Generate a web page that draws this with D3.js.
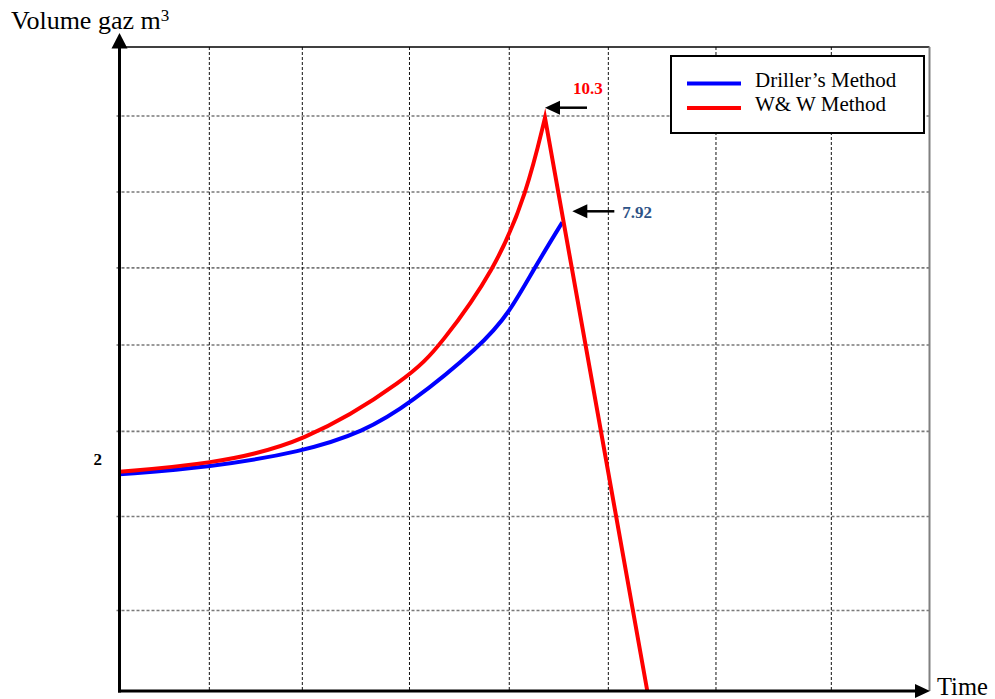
<!DOCTYPE html>
<html>
<head>
<meta charset="utf-8">
<script src="https://cdn.jsdelivr.net/npm/d3@7"></script>
<style>
  html, body { margin: 0; padding: 0; background: #fff; }
  svg { display: block; }
  text { font-family: "Liberation Serif", "Times New Roman", serif; }
</style>
</head>
<body>
<svg id="chart" width="995" height="699"></svg>
<script>
// Gas volume over time for the two well-control methods
const drillerTime   = [0, 11.09, 22.57, 30.10, 35.86, 44.63, 48.12, 51.22, 54.67];
const drillerVolume = [1.868, 1.928, 2.18, 2.675, 3.376, 4.834, 5.652, 6.777, 7.92];

const wwTime   = [0, 11.09, 22.57, 35.86, 39.57, 46.36, 50.31, 52.53];
const wwVolume = [1.89, 1.957, 2.35, 4.039, 4.834, 6.727, 8.603, 10.3];
// after the peak the W&W volume drops back to zero
const wwDropTime   = [52.53, 65.16];
const wwDropVolume = [10.3, 0];

// Peak annotations
const peakLabels  = ["10.3", "7.92"];
const peakVolumes = [10.3, 7.92];
const peakTimes   = [52.53, 54.67];

// Grid and tick values
const timeGrid    = [11.09, 22.57, 35.80, 48.12, 60.35, 73.64, 87.88];
const volumeGrid  = [0.694, 1.504, 2.69, 4.85, 6.78, 8.61, 10.34];
const volumeTicks = [2];

const seriesNames  = ["Driller\u2019s Method", "W& W Method"];
const seriesColors = ["#0000ff", "#ff0000"];

const svg = d3.select("#chart");

const x = d3.scaleLinear().domain([0, 100]).range([119.5, 929.5]);
// schematic (piecewise) volume axis
const y = d3.scaleLinear()
  .domain([0, 2, 7.92, 10.3, 11.91])
  .range([691, 459, 222.3, 117.7, 47]);

const x0 = x(0), x1 = x(100), yTop = y(11.91), yBot = y(0);

// grid
svg.append("g").selectAll("line").data(volumeGrid).join("line")
  .attr("x1", x0 - 3).attr("x2", x1)
  .attr("y1", d => y(d)).attr("y2", d => y(d))
  .attr("stroke", "#7a7a7a").attr("stroke-width", 1.6)
  .attr("stroke-dasharray", "3,2");

svg.append("g").selectAll("line").data(timeGrid).join("line")
  .attr("x1", d => x(d)).attr("x2", d => x(d))
  .attr("y1", yTop).attr("y2", yBot)
  .attr("stroke", "#111").attr("stroke-width", 1)
  .attr("stroke-dasharray", "3,2");

// frame: top and right borders
svg.append("line").attr("x1", x0).attr("x2", x1).attr("y1", yTop).attr("y2", yTop)
  .attr("stroke", "#000").attr("stroke-width", 1.5);
svg.append("line").attr("x1", x1).attr("x2", x1).attr("y1", yTop).attr("y2", yBot)
  .attr("stroke", "#808080").attr("stroke-width", 2);

// series
const curveLine = d3.line().x(d => x(d[0])).y(d => y(d[1])).curve(d3.curveBasis);
const straight  = d3.line().x(d => x(d[0])).y(d => y(d[1]));

svg.append("path")
  .attr("d", curveLine(d3.zip(drillerTime, drillerVolume)))
  .attr("fill", "none").attr("stroke", seriesColors[0]).attr("stroke-width", 4);

const riseD = curveLine(d3.zip(wwTime, wwVolume));
const dropD = straight(d3.zip(wwDropTime, wwDropVolume)).replace(/^M[^L]*/, "");
svg.append("path")
  .attr("d", riseD + dropD)
  .attr("fill", "none").attr("stroke", seriesColors[1]).attr("stroke-width", 4)
  .attr("stroke-linejoin", "miter").attr("stroke-miterlimit", 10);

// axes with arrow heads
svg.append("line").attr("x1", x0).attr("x2", x0).attr("y1", yBot + 1.5).attr("y2", 46)
  .attr("stroke", "#000").attr("stroke-width", 3);
svg.append("path").attr("d", `M${x0 - 8},48.5L${x0 + 8},48.5L${x0},33Z`).attr("fill", "#000");

svg.append("line").attr("x1", x0 - 1.5).attr("x2", 917).attr("y1", yBot).attr("y2", yBot)
  .attr("stroke", "#000").attr("stroke-width", 3);
svg.append("path").attr("d", `M915,${yBot - 7}L915,${yBot + 7}L930,${yBot}Z`).attr("fill", "#000");

// axis titles
const yt = svg.append("text").attr("x", 11).attr("y", 29).attr("font-size", 26).attr("fill", "#000");
yt.append("tspan").text("Volume gaz m");
yt.append("tspan").text("3").attr("font-size", 17).attr("dy", -8);

svg.append("text").attr("x", 937).attr("y", 695).attr("font-size", 24.5).attr("fill", "#000").text("Time");

// volume tick label
svg.append("g").selectAll("text").data(volumeTicks).join("text")
  .attr("x", 102).attr("y", d => y(d) + 6)
  .attr("text-anchor", "end").attr("font-size", 17).attr("font-weight", "bold")
  .text(d => d);

// peak annotations
const annColors = ["#ff0000", "#2e5387"];
const ann = svg.append("g");
peakLabels.forEach((lab, i) => {
  const px = x(peakTimes[i]), py = y(peakVolumes[i]);
  const ay = i === 0 ? py - 10 : py - 11;
  const tipX = i === 0 ? px : px + 10;
  const tailX = tipX + 42;
  ann.append("line").attr("x1", tipX + 12).attr("x2", tailX).attr("y1", ay).attr("y2", ay)
    .attr("stroke", "#000").attr("stroke-width", 2.5);
  ann.append("path").attr("d", `M${tipX},${ay}L${tipX + 15},${ay - 7}L${tipX + 15},${ay + 7}Z`)
    .attr("fill", "#000");
  if (i === 0) {
    ann.append("text").attr("x", px + 28).attr("y", ay - 14)
      .attr("font-size", 17).attr("font-weight", "bold").attr("fill", annColors[i]).text(lab);
  } else {
    ann.append("text").attr("x", tailX + 8).attr("y", ay + 7)
      .attr("font-size", 17).attr("font-weight", "bold").attr("fill", annColors[i]).text(lab);
  }
});

// legend
const lg = svg.append("g");
lg.append("rect").attr("x", 671).attr("y", 56).attr("width", 253).attr("height", 77)
  .attr("fill", "#fff").attr("stroke", "#000").attr("stroke-width", 2);
seriesNames.forEach((name, i) => {
  const ly = 83.5 + i * 24.5;
  lg.append("line").attr("x1", 687).attr("x2", 741).attr("y1", ly).attr("y2", ly)
    .attr("stroke", seriesColors[i]).attr("stroke-width", 4);
  lg.append("text").attr("x", 755).attr("y", ly + 3)
    .attr("font-size", 21).attr("fill", "#000").text(name);
});
</script>
</body>
</html>
